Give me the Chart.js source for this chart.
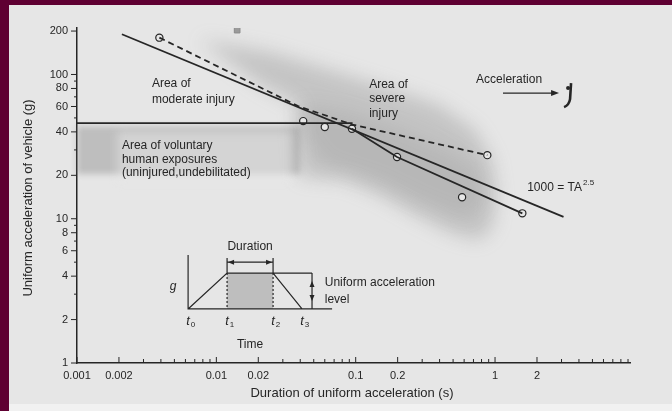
<!DOCTYPE html>
<html>
<head>
<meta charset="utf-8">
<script src="https://cdn.jsdelivr.net/npm/chart.js@4.4.1/dist/chart.umd.min.js"></script>
<style>
  body { margin: 0; background: #5f0032; }
  canvas { display: block; }
</style>
</head>
<body>
<canvas id="chart" width="672" height="411"></canvas>
<script>
// axis ticks (log-log paper)
const xTicks = [0.001, 0.002, 0.003, 0.004, 0.005, 0.006, 0.007, 0.008, 0.009,
  0.01, 0.02, 0.03, 0.04, 0.05, 0.06, 0.07, 0.08, 0.09,
  0.1, 0.2, 0.3, 0.4, 0.5, 0.6, 0.7, 0.8, 0.9,
  1, 2, 3, 4, 5, 6, 7, 8, 9];
const xLabels = [0.001, 0.002, 0.01, 0.02, 0.1, 0.2, 1, 2];
const yTicks = [1, 2, 3, 4, 5, 6, 7, 8, 9, 10, 20, 30, 40, 50, 60, 70, 80, 90, 100, 200];
const yLabels = [1, 2, 4, 6, 8, 10, 20, 40, 60, 80, 100, 200];

// 1000 = T A^2.5 line
const limitT = [0.0021, 3.1];
const limitA = [190, 10.3];
// voluntary exposure limit
const volT = [0.001, 0.095];
const volA = [46, 46];
// lower solid line (severe injury)
const severeT = [0.094, 0.198, 1.57];
const severeA = [42, 26.8, 10.9];
// dashed boundary
const dashT = [0.0039, 0.0386, 0.094, 0.88];
const dashA = [180, 60.4, 45, 27.6];
// open circles
const circleT = [0.0039, 0.042, 0.060, 0.094, 0.198, 0.58, 0.88, 1.57];
const circleA = [180, 47.5, 43.2, 42, 26.8, 14.1, 27.6, 10.9];
// filled square
const squareT = [0.0141];
const squareA = [203];

// shaded injury cloud (outline) and its darker core
const cloudT = [0.0076, 0.024, 0.066, 0.177, 0.40, 0.72, 0.95, 1.03, 0.95, 0.76, 0.48, 0.27, 0.15, 0.084, 0.04, 0.037, 0.04, 0.021, 0.0125];
const cloudA = [173, 143, 107, 80, 61, 41, 25.5, 14.6, 8.6, 7.1, 8, 10.6, 14.6, 18.5, 19.5, 44.6, 61, 84.5, 122];
const coreT = [0.04, 0.09, 0.2, 0.45, 0.75, 0.85, 0.6, 0.3, 0.15, 0.06, 0.042];
const coreA = [62, 55, 42, 30, 22, 13, 10, 13, 18, 24, 38];
// voluntary exposure band
const bandT = [0.001, 0.04];
const bandA = [20.4, 43.9];

const INK = '#262626';
const PAPER = '#e6e6e6';

function pts(ts, as) {
  return ts.map((t, i) => ({ x: t, y: as[i] }));
}

function lineSet(ts, as, dash) {
  return {
    data: pts(ts, as), showLine: true, borderColor: INK, borderWidth: 1.8,
    borderDash: dash || [], pointRadius: 0, fill: false
  };
}

function poly(ctx, x, y, ts, as) {
  ctx.beginPath();
  ts.forEach((t, i) => {
    const X = x.getPixelForValue(t), Y = y.getPixelForValue(as[i]);
    i ? ctx.lineTo(X, Y) : ctx.moveTo(X, Y);
  });
  ctx.closePath();
  ctx.fill();
}

const paper = {
  id: 'paper',
  beforeDraw(c) {
    const ctx = c.ctx;
    ctx.save();
    ctx.fillStyle = '#5f0032';
    ctx.fillRect(0, 0, c.width, c.height);
    ctx.fillStyle = PAPER;
    ctx.fillRect(9, 5, c.width - 9, 399);
    ctx.fillStyle = '#f1f1f1';
    ctx.fillRect(9, 404, c.width - 9, 7);
    ctx.restore();
  },
  beforeDatasetsDraw(c) {
    const ctx = c.ctx, x = c.scales.x, y = c.scales.y;
    ctx.save();
    ctx.filter = 'blur(9px)';
    ctx.fillStyle = 'rgba(120,120,120,0.30)';
    poly(ctx, x, y, cloudT, cloudA);
    ctx.fillStyle = 'rgba(120,120,120,0.16)';
    poly(ctx, x, y, coreT, coreA);
    ctx.filter = 'blur(3px)';
    const bx0 = x.getPixelForValue(bandT[0]), bx1 = x.getPixelForValue(bandT[1]);
    const by0 = y.getPixelForValue(bandA[1]), by1 = y.getPixelForValue(bandA[0]);
    ctx.fillStyle = 'rgba(120,120,120,0.36)';
    ctx.fillRect(bx0, by0, bx1 - bx0, by1 - by0);
    ctx.filter = 'blur(5px)';
    ctx.fillStyle = 'rgba(234,234,234,0.5)';
    ctx.fillRect(x.getPixelForValue(0.00194), by0 + 5, x.getPixelForValue(0.0349) - x.getPixelForValue(0.00194), by1 - by0 + 2);
    ctx.restore();
  },
  afterDraw(c) {
    const ctx = c.ctx, x = c.scales.x, y = c.scales.y;
    const X = v => x.getPixelForValue(v), Y = v => y.getPixelForValue(v);
    ctx.save();
    ctx.strokeStyle = INK;
    ctx.fillStyle = INK;
    ctx.lineWidth = 1;
    // ticks: x inward, y outward
    const bottom = c.chartArea.bottom, left = c.chartArea.left;
    xTicks.forEach(v => {
      const len = xLabels.includes(v) ? 6 : 4;
      ctx.beginPath(); ctx.moveTo(X(v), bottom); ctx.lineTo(X(v), bottom - len); ctx.stroke();
    });
    yTicks.forEach(v => {
      const len = yLabels.includes(v) ? 6 : 3;
      ctx.beginPath(); ctx.moveTo(left, Y(v)); ctx.lineTo(left - len, Y(v)); ctx.stroke();
    });

    // axis titles
    ctx.font = '13px "Liberation Sans", Arial, sans-serif';
    ctx.textAlign = 'center';
    ctx.textBaseline = 'middle';
    ctx.fillText('Duration of uniform acceleration (s)', 352, 393);
    ctx.save();
    ctx.translate(28, 198);
    ctx.rotate(-Math.PI / 2);
    ctx.fillText('Uniform acceleration of vehicle (g)', 0, 0);
    ctx.restore();

    // area labels
    ctx.font = '12px "Liberation Sans", Arial, sans-serif';
    ctx.textAlign = 'left';
    const put = (s, t, a) => ctx.fillText(s, X(t), Y(a));
    put('Area of', 0.00345, 87);
    put('moderate injury', 0.00345, 66.5);
    put('Area of', 0.125, 84.5);
    put('severe', 0.125, 67.5);
    put('injury', 0.125, 53.2);
    put('Area of voluntary', 0.0021, 32);
    put('human exposures', 0.0021, 25.6);
    put('(uninjured,undebilitated)', 0.0021, 20.8);
    put('Acceleration', 0.731, 91.5);
    put('1000 = TA', 1.70, 16.3);
    const w = ctx.measureText('1000 = TA').width;
    ctx.font = '8px "Liberation Sans", Arial, sans-serif';
    ctx.fillText('2.5', X(1.70) + w + 1, Y(16.3) - 5);

    // acceleration arrow and seated figure
    const ax0 = X(1.14), ax1 = X(2.88), ay = Y(74.3);
    ctx.lineWidth = 1.3;
    ctx.beginPath(); ctx.moveTo(ax0, ay); ctx.lineTo(ax1 - 5, ay); ctx.stroke();
    ctx.beginPath(); ctx.moveTo(ax1, ay); ctx.lineTo(ax1 - 8, ay - 3); ctx.lineTo(ax1 - 8, ay + 3); ctx.closePath(); ctx.fill();
    ctx.lineWidth = 2.6;
    ctx.beginPath();
    ctx.moveTo(ax1 + 12, ay - 10);
    ctx.lineTo(ax1 + 11, ay + 6);
    ctx.quadraticCurveTo(ax1 + 10, ay + 12, ax1 + 5, ay + 14);
    ctx.stroke();
    ctx.beginPath(); ctx.arc(ax1 + 9, ay - 5, 2, 0, Math.PI * 2); ctx.fill();

    // inset pulse diagram
    const t0 = X(0.00627), t1 = X(0.01194), t2 = X(0.02553), t3 = X(0.0412), tl = X(0.0486), te = X(0.0677);
    const base = Y(2.37), top = Y(4.2), axTop = Y(5.6), durY = Y(5.0), durTop = Y(5.34);
    ctx.fillStyle = 'rgba(150,150,150,0.5)';
    ctx.fillRect(t1, top, t2 - t1, base - top);
    ctx.fillStyle = INK;
    ctx.lineWidth = 1.2;
    ctx.beginPath();
    ctx.moveTo(t0, axTop); ctx.lineTo(t0, base); ctx.lineTo(te, base);
    ctx.moveTo(t0, base); ctx.lineTo(t1, top); ctx.lineTo(tl, top);
    ctx.moveTo(t2, top); ctx.lineTo(t3, base);
    ctx.moveTo(t1, top); ctx.lineTo(t1, durTop);
    ctx.moveTo(t2, top); ctx.lineTo(t2, durTop);
    ctx.moveTo(t1, durY); ctx.lineTo(t2, durY);
    ctx.moveTo(tl, top); ctx.lineTo(tl, base);
    ctx.stroke();
    ctx.setLineDash([2, 2]);
    ctx.beginPath();
    ctx.moveTo(t1, top); ctx.lineTo(t1, base);
    ctx.moveTo(t2, top); ctx.lineTo(t2, base);
    ctx.stroke();
    ctx.setLineDash([]);
    const head = (hx, hy, dx, dy) => {
      ctx.beginPath();
      ctx.moveTo(hx, hy);
      ctx.lineTo(hx - dx * 6 - dy * 2.5, hy - dy * 6 - dx * 2.5);
      ctx.lineTo(hx - dx * 6 + dy * 2.5, hy - dy * 6 + dx * 2.5);
      ctx.closePath(); ctx.fill();
    };
    head(t1 + 1, durY, -1, 0);
    head(t2 - 1, durY, 1, 0);
    head(tl, top + 8, 0, -1);
    head(tl, base - 8, 0, 1);

    ctx.font = '12px "Liberation Sans", Arial, sans-serif';
    ctx.textAlign = 'center';
    ctx.fillText('Duration', X(0.01746), Y(6.37));
    ctx.fillText('Time', X(0.01746), Y(1.33));
    ctx.font = 'italic 12px "Liberation Sans", Arial, sans-serif';
    ctx.fillText('g', X(0.00489), Y(3.36));
    [[t0, '0'], [t1, '1'], [t2, '2'], [t3, '3']].forEach(([tx, sub]) => {
      ctx.font = 'italic 13px "Liberation Sans", Arial, sans-serif';
      ctx.fillText('t', tx, Y(1.95));
      ctx.font = '8px "Liberation Sans", Arial, sans-serif';
      ctx.fillText(sub, tx + 5, Y(1.95) + 4);
    });
    ctx.font = '12px "Liberation Sans", Arial, sans-serif';
    ctx.textAlign = 'left';
    ctx.fillText('Uniform acceleration', X(0.060), Y(3.59));
    ctx.fillText('level', X(0.060), Y(2.73));
    ctx.restore();
  }
};

new Chart(document.getElementById('chart'), {
  type: 'scatter',
  data: {
    datasets: [
      lineSet(limitT, limitA),
      lineSet(volT, volA),
      lineSet(severeT, severeA),
      lineSet(dashT, dashA, [6, 4]),
      {
        data: pts(circleT, circleA), pointStyle: 'circle', pointRadius: 3.6,
        pointBorderColor: INK, pointBackgroundColor: PAPER, pointBorderWidth: 1.2
      },
      {
        data: pts(squareT, squareA), pointStyle: 'rect', pointRadius: 4,
        pointBorderColor: '#8a8a8a', pointBackgroundColor: '#9a9a9a', pointBorderWidth: 1
      }
    ]
  },
  options: {
    responsive: false,
    animation: false,
    layout: { padding: { left: 0, top: 28, right: 42, bottom: 0 } },
    plugins: { legend: { display: false }, tooltip: { enabled: false } },
    scales: {
      x: {
        type: 'logarithmic', min: 0.001, max: 9.3,
        afterBuildTicks: s => { s.ticks = xTicks.map(v => ({ value: v })); },
        afterFit: s => { s.height = 48; },
        grid: { display: false, drawTicks: false },
        border: { display: true, color: INK, width: 1.5 },
        ticks: {
          autoSkip: false, maxRotation: 0, padding: 6, color: INK,
          font: { family: '"Liberation Sans", Arial, sans-serif', size: 11 },
          callback: v => xLabels.includes(v) ? String(v) : ''
        }
      },
      y: {
        type: 'logarithmic', min: 1, max: 210,
        afterBuildTicks: s => { s.ticks = yTicks.map(v => ({ value: v })); },
        afterFit: s => { s.width = 77; },
        grid: { display: false, drawTicks: false },
        border: { display: true, color: INK, width: 1.5 },
        ticks: {
          autoSkip: false, padding: 9, color: INK,
          font: { family: '"Liberation Sans", Arial, sans-serif', size: 11 },
          callback: v => yLabels.includes(v) ? String(v) : ''
        }
      }
    }
  },
  plugins: [paper]
});
</script>
</body>
</html>
